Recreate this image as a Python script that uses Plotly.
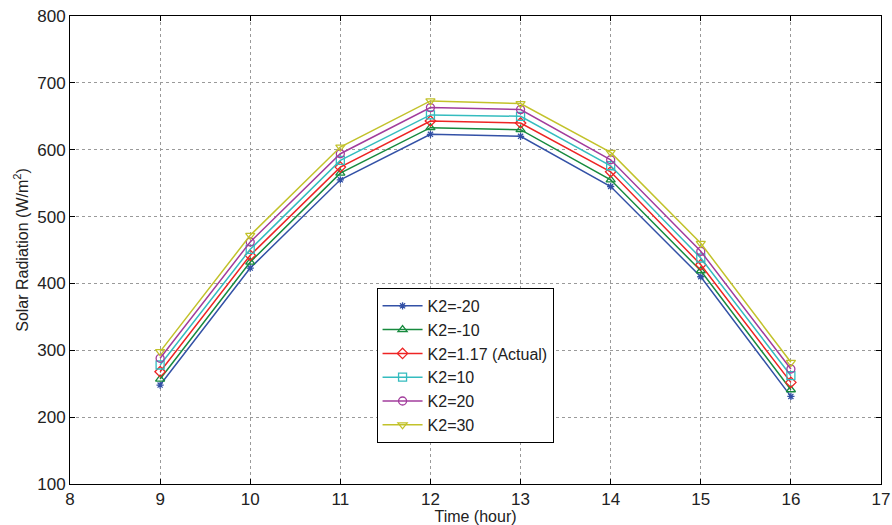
import plotly.graph_objects as go

hours = [9, 10, 11, 12, 13, 14, 15, 16]

k2_minus20 = [248, 423, 555, 623, 620, 545, 410, 231]
k2_minus10 = [257, 432, 565, 633, 630, 555, 419, 241]
k2_actual = [268, 442, 574, 643, 640, 567, 428, 252]
k2_10 = [278, 451, 584, 652, 650, 576, 438, 262]
k2_20 = [288, 462, 594, 663, 660, 585, 448, 272]
k2_30 = [298, 472, 604, 673, 669, 596, 460, 282]

series_names = ["K2=-20", "K2=-10", "K2=1.17 (Actual)", "K2=10", "K2=20", "K2=30"]
series_values = [k2_minus20, k2_minus10, k2_actual, k2_10, k2_20, k2_30]
colors = ["#3351a6", "#178a3e", "#ee2424", "#34bcbf", "#a23c9c", "#c2c22a"]
symbols = ["asterisk-open", "triangle-up-open", "diamond-open", "square-open",
           "circle-open", "triangle-down-open"]
sizes = [6, 8, 8, 8, 8, 8]

x_ticks = list(range(8, 18))
y_ticks = list(range(100, 900, 100))

fig = go.Figure()
for name, vals, c, s, sz in zip(series_names, series_values, colors, symbols, sizes):
    fig.add_trace(go.Scatter(
        x=hours, y=vals, name=name, mode="lines+markers",
        line=dict(color=c, width=1.5),
        marker=dict(symbol=s, size=sz, color=c, line=dict(color=c, width=1.3)),
    ))

axis_common = dict(
    showgrid=True, gridcolor="#9a9a9a", griddash="dot", gridwidth=1,
    showline=True, linecolor="black", linewidth=1, mirror="ticks",
    ticks="inside", ticklen=5, tickcolor="black",
    zeroline=False, automargin=False,
    tickfont=dict(family="Liberation Sans, Arial, sans-serif", size=17, color="#222"),
)

fig.update_layout(
    width=892, height=525,
    margin=dict(l=70, r=11, t=16, b=41, autoexpand=False),
    paper_bgcolor="white", plot_bgcolor="white",
    font=dict(family="Liberation Sans, Arial, sans-serif", size=16, color="#222"),
    xaxis=dict(range=[8, 17], tickvals=x_ticks,
               title=dict(text="Time (hour)", standoff=0,
                          font=dict(size=16)), **axis_common),
    yaxis=dict(range=[100, 800], tickvals=y_ticks,
               title=dict(text="Solar Radiation (W/m<sup>2</sup>)", standoff=4,
                          font=dict(size=16)), **axis_common),
    legend=dict(
        x=0.378, y=0.419, xanchor="left", yanchor="top",
        bgcolor="white", bordercolor="black", borderwidth=1,
        font=dict(size=16, color="#222"),
        tracegroupgap=0, itemwidth=40,
    ),
)

fig.write_html("out.html")
